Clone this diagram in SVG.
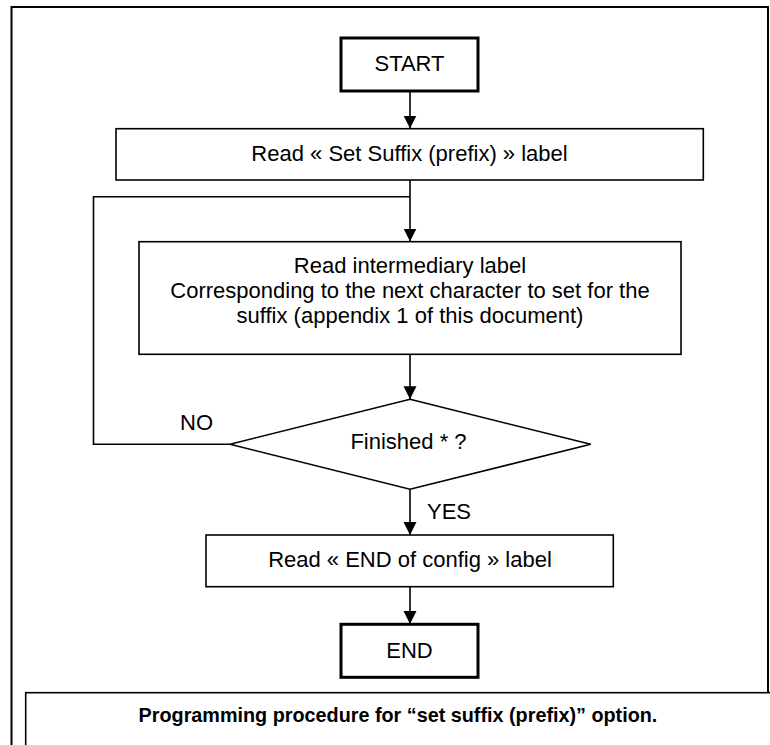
<svg xmlns="http://www.w3.org/2000/svg" width="770" height="745" viewBox="0 0 770 745">
<style>
.box{fill:#fff;stroke:#000;stroke-width:1.6}
.term{fill:#fff;stroke:#000;stroke-width:3}
.t{font-family:"Liberation Sans",Arial,sans-serif;font-size:22px;fill:#000;text-anchor:middle}
.lbl{font-family:"Liberation Sans",Arial,sans-serif;font-size:22px;fill:#000}
.cap{font-family:"Liberation Sans",Arial,sans-serif;font-size:19.8px;font-weight:bold;fill:#000;text-anchor:middle}
.c{fill:none;stroke:#000;stroke-width:1.6}
</style>
<defs>
<marker id="ah" markerUnits="userSpaceOnUse" markerWidth="13" markerHeight="14" refX="13" refY="6.5" orient="auto">
<path d="M0,0 L13,6.5 L0,13 Z" fill="#000"/>
</marker>
</defs>
<rect x="0" y="0" width="770" height="745" fill="#fff"/>
<g id="frame">
<path d="M11.5,760 L11.5,7 L768,7 L768,693" fill="none" stroke="#000" stroke-width="2"/>
</g>
<g id="connectors">
<line class="c" x1="410" y1="91" x2="410" y2="128.5" marker-end="url(#ah)"/>
<line class="c" x1="410" y1="180" x2="410" y2="241.5" marker-end="url(#ah)"/>
<polyline class="c" points="230,444.3 93.5,444.3 93.5,196.7 410,196.7"/>
<line class="c" x1="410" y1="354.3" x2="410" y2="399.3" marker-end="url(#ah)"/>
<line class="c" x1="410" y1="489.3" x2="410" y2="535" marker-end="url(#ah)"/>
<line class="c" x1="410" y1="586.7" x2="410" y2="624" marker-end="url(#ah)"/>
<text class="lbl" x="180" y="430">NO</text>
<text class="lbl" x="427" y="519.3">YES</text>
</g>
<g id="start">
<rect class="term" x="341" y="38" width="137" height="53"/>
<text class="t" x="409.5" y="71">START</text>
</g>
<g id="read-suffix">
<rect class="box" x="116" y="128.7" width="587.3" height="51.3"/>
<text class="t" x="409.5" y="160.5">Read « Set Suffix (prefix) » label</text>
</g>
<g id="read-intermediary">
<rect class="box" x="139" y="241.7" width="542" height="112.6"/>
<text class="t" x="410" y="273.3">Read intermediary label</text>
<text class="t" x="410" y="298.3">Corresponding to the next character to set for the</text>
<text class="t" x="410" y="323.3">suffix (appendix 1 of this document)</text>
</g>
<g id="finished">
<polygon class="box" points="410,399.3 590.7,444.3 410,489.3 230,444.3"/>
<text class="t" x="408.5" y="448.5">Finished * ?</text>
</g>
<g id="read-end">
<rect class="box" x="206" y="535" width="407.3" height="51.7"/>
<text class="t" x="410" y="566.5">Read « END of config » label</text>
</g>
<g id="end">
<rect class="term" x="341" y="624.3" width="137" height="53"/>
<text class="t" x="409.5" y="657.5">END</text>
</g>
<g id="caption">
<rect x="25.7" y="692.7" width="760" height="80" fill="#fff" stroke="#000" stroke-width="1.6"/>
<text class="cap" x="398" y="721.7">Programming procedure for “set suffix (prefix)” option.</text>
</g>
</svg>
